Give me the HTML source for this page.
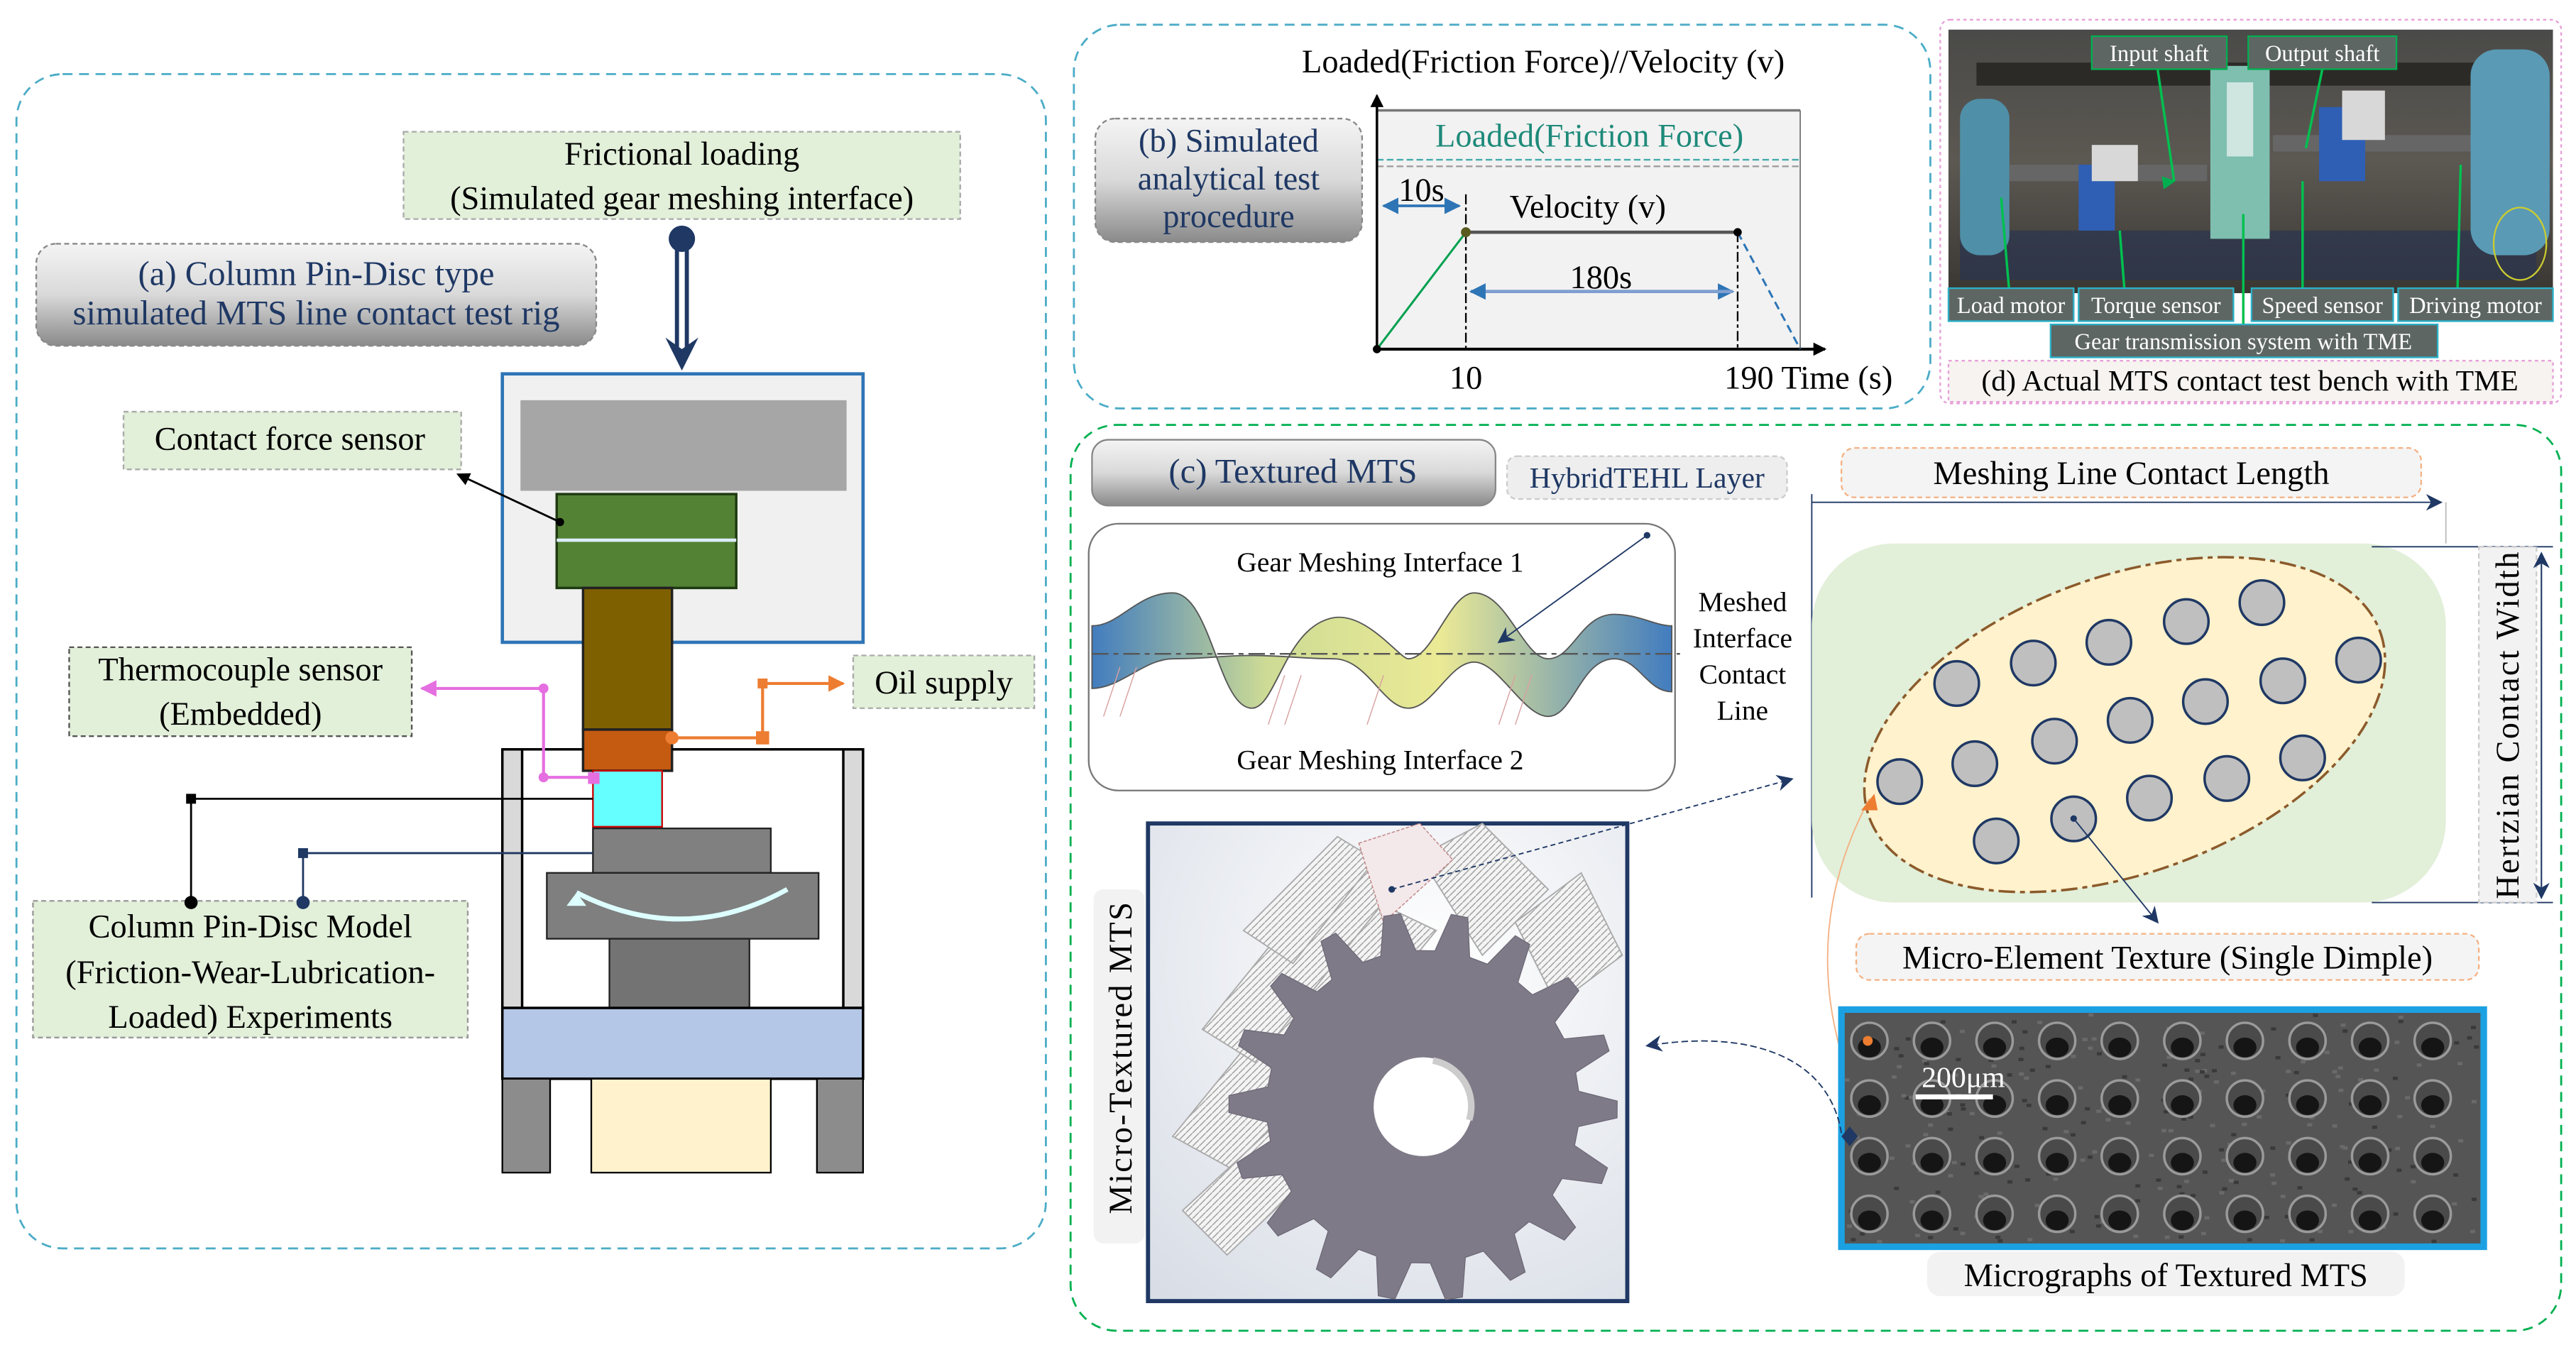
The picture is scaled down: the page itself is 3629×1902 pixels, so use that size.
<!DOCTYPE html>
<html><head><meta charset="utf-8">
<style>
html,body{margin:0;padding:0;background:#fff;}
svg{display:block;}
text{font-family:"Liberation Serif",serif;}
</style></head>
<body>
<svg id="s" width="3629" height="1902" viewBox="0 0 1564 819.7" preserveAspectRatio="none" xmlns="http://www.w3.org/2000/svg">
<defs>
<linearGradient id="gb" x1="0" y1="0" x2="0" y2="1"><stop offset="0" stop-color="#f4f4f4"/><stop offset="0.5" stop-color="#d9d9d9"/><stop offset="1" stop-color="#8a8a8a"/></linearGradient>
<linearGradient id="wv" x1="0" y1="0" x2="1" y2="0"><stop offset="0" stop-color="#2e6fb8"/><stop offset="0.3" stop-color="#c8d88a"/><stop offset="0.6" stop-color="#e9e88a"/><stop offset="1" stop-color="#2e6fb8"/></linearGradient>
<linearGradient id="ph" x1="0" y1="0" x2="0" y2="1"><stop offset="0" stop-color="#4a4a48"/><stop offset="0.5" stop-color="#5c5852"/><stop offset="1" stop-color="#3a3632"/></linearGradient>
<radialGradient id="gr" cx="0.6" cy="0.3" r="0.9"><stop offset="0" stop-color="#ffffff"/><stop offset="1" stop-color="#d8dde6"/></radialGradient>
<pattern id="hatch" width="4" height="4" patternUnits="userSpaceOnUse"><rect width="4" height="4" fill="#f4f4f4"/><path d="M0,4 L4,0" stroke="#999" stroke-width="0.6"/></pattern>
<marker id="ab" markerWidth="8" markerHeight="8" refX="7" refY="4" orient="auto" markerUnits="userSpaceOnUse"><path d="M0,0 L8,4 L0,8 z" fill="#000"/></marker>
<marker id="an" markerWidth="10" markerHeight="10" refX="9" refY="5" orient="auto" markerUnits="userSpaceOnUse"><path d="M0,0 L10,5 L0,10 L3,5 z" fill="#1f3864"/></marker>
<marker id="ap" markerWidth="10" markerHeight="10" refX="9" refY="5" orient="auto" markerUnits="userSpaceOnUse"><path d="M0,0 L10,5 L0,10 z" fill="#e56ee0"/></marker>
<marker id="ao" markerWidth="10" markerHeight="10" refX="9" refY="5" orient="auto" markerUnits="userSpaceOnUse"><path d="M0,0 L10,5 L0,10 z" fill="#ed7d31"/></marker>
<marker id="abl" markerWidth="10" markerHeight="10" refX="9" refY="5" orient="auto" markerUnits="userSpaceOnUse"><path d="M0,0 L10,5 L0,10 z" fill="#2e75b6"/></marker>
<marker id="ag" markerWidth="8" markerHeight="8" refX="4" refY="1" orient="auto" markerUnits="userSpaceOnUse"><path d="M0,8 L4,0 L8,8 z" fill="#00b050"/></marker>
</defs>

<!-- Panel a -->
<rect x="10" y="45" width="625" height="713" rx="28" fill="none" stroke="#4bacc6" stroke-dasharray="6,4" stroke-width="1.2"/>
<rect x="245" y="80" width="338" height="53" fill="#e2efd9" stroke="#aaa" stroke-dasharray="3,2"/>
<text x="414" y="100" font-size="20" text-anchor="middle">Frictional loading</text>
<text x="414" y="127" font-size="20" text-anchor="middle">(Simulated gear meshing interface)</text>
<rect x="22" y="148" width="340" height="62" rx="12" fill="url(#gb)" stroke="#888" stroke-dasharray="3,2"/>
<text x="192" y="173" font-size="21" text-anchor="middle" fill="#1f3864">(a) Column Pin-Disc type</text>
<text x="192" y="197" font-size="21" text-anchor="middle" fill="#1f3864">simulated MTS line contact test rig</text>
<circle cx="414" cy="145" r="8" fill="#1f3864"/>
<line x1="411" y1="145" x2="411" y2="215" stroke="#1f3864" stroke-width="2.5"/>
<line x1="417" y1="145" x2="417" y2="215" stroke="#1f3864" stroke-width="2.5"/>
<path d="M404,205 L414,225 L424,205 L414,212 z" fill="#1f3864"/>
<rect x="305" y="227" width="219" height="163" fill="#f0f0f0" stroke="#2e75b6" stroke-width="2"/>
<rect x="316" y="243" width="198" height="55" fill="#a6a6a6"/>
<rect x="338" y="300" width="109" height="57" fill="#548235" stroke="#1e3a10" stroke-width="1.5"/>
<line x1="338" y1="328" x2="447" y2="328" stroke="#ddeeff" stroke-width="2"/>
<rect x="354" y="357" width="54" height="86" fill="#7f6000" stroke="#222" stroke-width="1.5"/>
<rect x="354" y="443" width="54" height="25" fill="#c55a11" stroke="#222" stroke-width="1.5"/>
<rect x="360" y="468" width="42" height="34" fill="#66ffff" stroke="#c00" stroke-width="1"/>
<line x1="305" y1="455" x2="354" y2="455" stroke="#000" stroke-width="1.5"/>
<line x1="408" y1="455" x2="524" y2="455" stroke="#000" stroke-width="1.5"/>
<rect x="305" y="455" width="12" height="157" fill="#d9d9d9" stroke="#000" stroke-width="1.5"/>
<rect x="512" y="455" width="12" height="157" fill="#d9d9d9" stroke="#000" stroke-width="1.5"/>
<rect x="360" y="503" width="108" height="27" fill="#808080" stroke="#222"/>
<rect x="332" y="530" width="165" height="40" fill="#7f7f7f" stroke="#222"/>
<path d="M350,542 Q415,575 478,540" fill="none" stroke="#dff" stroke-width="3"/>
<path d="M350,542 l-6,8 l12,0 z" fill="#dff"/>
<rect x="370" y="570" width="85" height="42" fill="#737373" stroke="#222"/>
<rect x="305" y="612" width="219" height="43" fill="#b4c7e7" stroke="#000" stroke-width="1.5"/>
<rect x="305" y="655" width="29" height="57" fill="#8c8c8c" stroke="#000"/>
<rect x="496" y="655" width="28" height="57" fill="#8c8c8c" stroke="#000"/>
<rect x="359" y="655" width="109" height="57" fill="#fff2cc" stroke="#000"/>
<rect x="75" y="250" width="205" height="35" fill="#e2efd9" stroke="#aaa" stroke-dasharray="3,2"/>
<text x="176" y="273" font-size="20" text-anchor="middle">Contact force sensor</text>
<line x1="340" y1="317" x2="278" y2="288" stroke="#000" stroke-width="1.2" marker-end="url(#ab)"/>
<circle cx="340" cy="317" r="2.5"/>
<rect x="42" y="393" width="208" height="54" fill="#e2efd9" stroke="#555" stroke-dasharray="3,2"/>
<text x="146" y="413" font-size="20" text-anchor="middle">Thermocouple sensor</text>
<text x="146" y="440" font-size="20" text-anchor="middle">(Embedded)</text>
<polyline points="362,472 330,472 330,418 256,418" fill="none" stroke="#e56ee0" stroke-width="1.8" marker-end="url(#ap)"/>
<rect x="357" y="469" width="7" height="7" fill="#e56ee0"/><circle cx="330" cy="472" r="3" fill="#e56ee0"/><circle cx="330" cy="418" r="3" fill="#e56ee0"/>
<rect x="518" y="398" width="110" height="32" fill="#e2efd9" stroke="#aaa" stroke-dasharray="3,2"/>
<text x="573" y="421" font-size="20" text-anchor="middle">Oil supply</text>
<polyline points="408,448 463,448 463,415 512,415" fill="none" stroke="#ed7d31" stroke-width="1.8" marker-end="url(#ao)"/>
<circle cx="408" cy="448" r="4" fill="#ed7d31"/><rect x="459" y="444" width="8" height="8" fill="#ed7d31"/><rect x="460" y="412" width="6" height="6" fill="#ed7d31"/>
<rect x="20" y="547" width="264" height="83" fill="#e2efd9" stroke="#999" stroke-dasharray="3,2"/>
<text x="152" y="569" font-size="20" text-anchor="middle">Column Pin-Disc Model</text>
<text x="152" y="597" font-size="20" text-anchor="middle">(Friction-Wear-Lubrication-</text>
<text x="152" y="624" font-size="20" text-anchor="middle">Loaded) Experiments</text>
<polyline points="116,548 116,485 360,485" fill="none" stroke="#000" stroke-width="1.2"/>
<circle cx="116" cy="548" r="4"/><rect x="113" y="482" width="6" height="6"/>
<polyline points="184,548 184,518 360,518" fill="none" stroke="#1f3864" stroke-width="1.2"/>
<circle cx="184" cy="548" r="4" fill="#1f3864"/><rect x="181" y="515" width="6" height="6" fill="#1f3864"/>

<!-- Panel b -->
<rect x="652" y="15" width="520" height="233" rx="28" fill="none" stroke="#4bacc6" stroke-dasharray="6,4" stroke-width="1.2"/>
<text x="937" y="44" font-size="20" text-anchor="middle">Loaded(Friction Force)//Velocity (v)</text>
<rect x="836" y="67" width="257" height="145" fill="#f2f2f2"/>
<line x1="836" y1="67" x2="1093" y2="67" stroke="#777" stroke-width="1.5"/>
<line x1="1093" y1="67" x2="1093" y2="212" stroke="#777" stroke-width="0.8"/>
<line x1="836" y1="97" x2="1093" y2="97" stroke="#4aa" stroke-dasharray="4,2"/>
<line x1="836" y1="101" x2="1093" y2="101" stroke="#999" stroke-dasharray="4,2"/>
<text x="965" y="89" font-size="20" text-anchor="middle" fill="#1e8a7a">Loaded(Friction Force)</text>
<line x1="836" y1="212" x2="836" y2="58" stroke="#000" stroke-width="1.5" marker-end="url(#ab)"/>
<line x1="836" y1="212" x2="1108" y2="212" stroke="#000" stroke-width="1.8" marker-end="url(#ab)"/>
<rect x="665" y="72" width="162" height="75" rx="12" fill="url(#gb)" stroke="#888" stroke-dasharray="3,2"/>
<text x="746" y="92" font-size="20" text-anchor="middle" fill="#1f3864">(b) Simulated</text>
<text x="746" y="115" font-size="20" text-anchor="middle" fill="#1f3864">analytical test</text>
<text x="746" y="138" font-size="20" text-anchor="middle" fill="#1f3864">procedure</text>
<line x1="836" y1="212" x2="890" y2="141" stroke="#00a050" stroke-width="1.3"/>
<line x1="890" y1="141" x2="1055" y2="141" stroke="#555" stroke-width="2"/>
<line x1="1055" y1="141" x2="1093" y2="212" stroke="#2e75b6" stroke-width="1.3" stroke-dasharray="5,3"/>
<line x1="890" y1="118" x2="890" y2="212" stroke="#000" stroke-dasharray="6,2,2,2"/>
<line x1="1055" y1="141" x2="1055" y2="212" stroke="#000" stroke-dasharray="6,2,2,2"/>
<circle cx="890" cy="141" r="3" fill="#5a5a20"/><circle cx="1055" cy="141" r="2.5"/><circle cx="836" cy="212" r="2.5"/>
<text x="863" y="122" font-size="20" text-anchor="middle">10s</text>
<line x1="840" y1="125" x2="886" y2="125" stroke="#2e75b6" stroke-width="1.5" marker-end="url(#abl)"/>
<line x1="886" y1="125" x2="840" y2="125" stroke="#2e75b6" stroke-width="1.5" marker-end="url(#abl)"/>
<text x="964" y="132" font-size="20" text-anchor="middle">Velocity (v)</text>
<text x="972" y="175" font-size="20" text-anchor="middle">180s</text>
<line x1="893" y1="177" x2="1052" y2="177" stroke="#7f9fd0" stroke-width="2" marker-end="url(#abl)"/>
<line x1="1052" y1="177" x2="893" y2="177" stroke="#7f9fd0" stroke-width="2" marker-end="url(#abl)"/>
<text x="890" y="236" font-size="20" text-anchor="middle">10</text>
<text x="1098" y="236" font-size="20" text-anchor="middle">190 Time (s)</text>

<!-- Panel d -->
<rect x="1178" y="12" width="377" height="233" rx="6" fill="none" stroke="#e6a0d8" stroke-dasharray="2,2"/>
<rect x="1183" y="18" width="367" height="160" fill="url(#ph)"/>
<rect x="1200" y="38" width="320" height="14" fill="#2c2a27"/>
<rect x="1190" y="140" width="350" height="30" fill="#2a3450" opacity="0.7"/>
<rect x="1190" y="60" width="30" height="95" rx="12" fill="#4f8fa8"/>
<rect x="1500" y="30" width="48" height="125" rx="16" fill="#5a9ab5"/>
<rect x="1220" y="100" width="120" height="10" fill="#666"/>
<rect x="1380" y="82" width="120" height="10" fill="#666"/>
<rect x="1262" y="100" width="22" height="40" fill="#2f5fb5"/>
<rect x="1270" y="88" width="28" height="22" fill="#d8d8d8"/>
<rect x="1342" y="40" width="36" height="105" fill="#7fbfb0"/>
<rect x="1352" y="50" width="16" height="45" fill="#cfe6e0"/>
<rect x="1408" y="65" width="28" height="45" fill="#2f5fb5"/>
<rect x="1422" y="55" width="26" height="30" fill="#d8d8d8"/>
<ellipse cx="1530" cy="148" rx="16" ry="22" fill="none" stroke="#cccc30"/>
<g stroke="#00c050" stroke-width="1.5">
<line x1="1310" y1="42" x2="1320" y2="110" marker-end="url(#ag)"/>
<line x1="1410" y1="42" x2="1400" y2="90"/>
<line x1="1220" y1="178" x2="1215" y2="120"/>
<line x1="1290" y1="178" x2="1287" y2="140"/>
<line x1="1362" y1="200" x2="1362" y2="130"/>
<line x1="1398" y1="178" x2="1398" y2="110"/>
<line x1="1492" y1="178" x2="1494" y2="100"/>
</g>
<g font-size="14" fill="#fff" text-anchor="middle">
<rect x="1270" y="22" width="82" height="20" fill="#5e6663" stroke="#00b050"/><text x="1311" y="37">Input shaft</text>
<rect x="1365" y="22" width="90" height="20" fill="#5e6663" stroke="#00b050"/><text x="1410" y="37">Output shaft</text>
<rect x="1183" y="175" width="76" height="20" fill="#5e6663" stroke="#2ab0c8"/><text x="1221" y="190">Load motor</text>
<rect x="1262" y="175" width="94" height="20" fill="#5e6663" stroke="#2ab0c8"/><text x="1309" y="190">Torque sensor</text>
<rect x="1367" y="175" width="86" height="20" fill="#5e6663" stroke="#2ab0c8"/><text x="1410" y="190">Speed sensor</text>
<rect x="1456" y="175" width="94" height="20" fill="#5e6663" stroke="#2ab0c8"/><text x="1503" y="190">Driving motor</text>
<rect x="1245" y="197" width="235" height="20" fill="#5e6663" stroke="#2ab0c8"/><text x="1362" y="212">Gear transmission system with TME</text>
</g>
<rect x="1183" y="219" width="367" height="25" fill="#f7f3f0" stroke="#e6a0d8" stroke-dasharray="2,2"/>
<text x="1366" y="237" font-size="18" text-anchor="middle">(d) Actual MTS contact test bench with TME</text>

<!-- Panel c -->
<rect x="650" y="258" width="905" height="550" rx="28" fill="none" stroke="#00b050" stroke-dasharray="6,4" stroke-width="1.2"/>
<rect x="663" y="267" width="245" height="40" rx="10" fill="url(#gb)" stroke="#888"/>
<text x="785" y="293" font-size="21" text-anchor="middle" fill="#1f3864">(c) Textured MTS</text>
<rect x="915" y="277" width="170" height="26" rx="6" fill="#eeeeee" stroke="#ccc" stroke-dasharray="3,2"/>
<text x="1000" y="296" font-size="18" text-anchor="middle" fill="#1f3864">HybridTEHL Layer</text>
<rect x="661" y="318" width="356" height="162" rx="18" fill="#fff" stroke="#777"/>
<text x="838" y="347" font-size="17" text-anchor="middle">Gear Meshing Interface 1</text>
<text x="838" y="467" font-size="17" text-anchor="middle">Gear Meshing Interface 2</text>
<path d="M663,380 C680,380 690,360 712,360 C735,360 740,430 760,430 C775,430 780,380 810,375 C830,372 850,400 855,400 C870,400 880,360 895,360 C915,360 925,400 940,400 C955,400 960,373 980,373 C995,373 1005,380 1015,380 L1015,420 C1000,420 995,400 980,400 C960,400 955,435 940,435 C925,435 910,402 895,402 C880,402 870,430 855,430 C840,430 830,400 810,400 C790,400 780,398 760,398 C740,398 735,400 712,400 C695,400 680,418 663,418 Z" fill="url(#wv)" stroke="#444" stroke-width="0.8" opacity="0.9"/>
<line x1="663" y1="397" x2="1020" y2="397" stroke="#555" stroke-dasharray="10,3,3,3"/>
<g stroke="#d9a0a0" stroke-width="0.6" fill="none"><path d="M680,405 l-10,30 M690,405 l-10,30 M780,410 l-10,30 M790,410 l-10,30 M840,410 l-10,30 M920,410 l-10,30 M930,410 l-10,30"/></g>
<line x1="1000" y1="325" x2="910" y2="390" stroke="#1f3864" stroke-width="0.8" marker-end="url(#an)"/>
<circle cx="1000" cy="325" r="2" fill="#1f3864"/>
<g font-size="17" text-anchor="middle"><text x="1058" y="371">Meshed</text><text x="1058" y="393">Interface</text><text x="1058" y="415">Contact</text><text x="1058" y="437">Line</text></g>
<rect x="1118" y="272" width="352" height="30" rx="8" fill="#f4f4f4" stroke="#f4b183" stroke-dasharray="3,2"/>
<text x="1294" y="294" font-size="20" text-anchor="middle">Meshing Line Contact Length</text>
<line x1="1100" y1="305" x2="1482" y2="305" stroke="#1f3864" stroke-width="0.8" marker-end="url(#an)"/>
<line x1="1100" y1="300" x2="1100" y2="545" stroke="#1f3864" stroke-width="0.8"/>
<line x1="1485" y1="305" x2="1485" y2="330" stroke="#bbb" stroke-width="0.8"/>
<rect x="1100" y="330" width="385" height="218" rx="50" fill="#e2efd9"/>
<line x1="1440" y1="332" x2="1550" y2="332" stroke="#1f3864" stroke-width="0.8"/>
<line x1="1440" y1="548" x2="1550" y2="548" stroke="#1f3864" stroke-width="0.8"/>
<ellipse cx="1290" cy="440" rx="165" ry="90" transform="rotate(-20 1290 440)" fill="#fff2cc" stroke="#8b5a2b" stroke-width="1.5" stroke-dasharray="10,3,3,3"/>
<g id="dimples" fill="#bfbfbf" stroke="#1f3864" stroke-width="1.5"></g>
<circle cx="1259" cy="497" r="2" fill="#1f3864"/>
<line x1="1259" y1="497" x2="1310" y2="560" stroke="#1f3864" stroke-width="0.8" marker-end="url(#an)"/>
<path d="M1135,485 Q1095,560 1118,640" fill="none" stroke="#f4b183" stroke-width="0.8"/>
<path d="M1130,492 l8,-10 l2,10 z" fill="#ed7d31"/>
<rect x="1505" y="332" width="35" height="216" fill="#f2f2f2" stroke="#ccc" stroke-dasharray="3,2"/>
<text transform="translate(1529 440) rotate(-90)" font-size="20" text-anchor="middle" letter-spacing="1">Hertzian Contact Width</text>
<line x1="1543" y1="545" x2="1543" y2="336" stroke="#1f3864" stroke-width="0.8" marker-end="url(#an)"/>
<line x1="1543" y1="336" x2="1543" y2="545" stroke="#1f3864" stroke-width="0.8" marker-end="url(#an)"/>
<rect x="1127" y="567" width="378" height="28" rx="8" fill="#f4f4f4" stroke="#f4b183" stroke-dasharray="3,2"/>
<text x="1316" y="588" font-size="20" text-anchor="middle">Micro-Element Texture (Single Dimple)</text>
<rect x="1118" y="613" width="390" height="144" fill="#555" stroke="#1ba1e2" stroke-width="4"/>
<g id="micro"></g>
<circle cx="1134" cy="632" r="3" fill="#ed7d31"/>
<text x="1192" y="660" font-size="18" text-anchor="middle" fill="#fff">200μm</text>
<line x1="1163" y1="666" x2="1210" y2="666" stroke="#fff" stroke-width="3"/>
<path d="M1118,690 l5,-6 l5,6 l-5,6 z" fill="#1f3864"/>
<path d="M1118,688 C1110,640 1060,625 1000,635" fill="none" stroke="#1f3864" stroke-width="0.8" stroke-dasharray="4,2" marker-end="url(#an)"/>
<rect x="1170" y="760" width="290" height="27" rx="8" fill="#f2f2f2"/>
<text x="1315" y="781" font-size="20" text-anchor="middle">Micrographs of Textured MTS</text>
<rect x="697" y="500" width="291" height="290" fill="url(#gr)" stroke="#1f3864" stroke-width="2.5"/>
<g fill="url(#hatch)" stroke="#aaa" stroke-width="0.8">
<path d="M712,690 L830,545 L872,565 L752,712 z"/>
<path d="M730,625 L815,520 L848,538 L762,645 z"/>
<path d="M755,565 L812,508 L835,522 L785,585 z"/>
<path d="M718,735 L808,652 L840,672 L745,762 z"/>
<path d="M862,520 L900,500 L940,540 L900,580 z"/>
<path d="M920,560 L960,530 L985,580 L945,610 z"/>
</g>
<path d="M825,512 L862,500 L882,522 L840,560 z" fill="#f3e8ea" stroke="#c08080" stroke-width="0.6" stroke-dasharray="2,1"/>
<path id="gear" fill="#7f7a88" stroke="#6a6573" stroke-width="0.5"/>
<circle cx="864" cy="672" r="30" fill="#fff"/>
<path d="M870,644 A28,28 0 0 1 892,680" fill="none" stroke="#ccc" stroke-width="4"/>
<line x1="845" y1="540" x2="1088" y2="473" stroke="#1f3864" stroke-width="0.8" stroke-dasharray="3,2" marker-end="url(#an)"/>
<circle cx="845" cy="540" r="2" fill="#1f3864"/>
<rect x="664" y="540" width="31" height="215" rx="6" fill="#f2f2f2"/>
<text transform="translate(687 642) rotate(-90)" font-size="20" text-anchor="middle" letter-spacing="1">Micro-Textured MTS</text>
</svg>
<script>
var NS="http://www.w3.org/2000/svg";
var pts=[[1188,415],[1234.5,402.6],[1280.4,390],[1327.4,377.4],[1373.3,365.9],[1432,400.8],[1386,413.4],[1339,426],[1293.3,437.4],[1247.4,450],[1199,463.7],[1153.4,474.6],[1212,510.6],[1259,497.2],[1305,484.6],[1352,472.7],[1398,460.2]];
var g=document.getElementById("dimples");
pts.forEach(function(p){var c=document.createElementNS(NS,"circle");c.setAttribute("cx",p[0]);c.setAttribute("cy",p[1]);c.setAttribute("r",13.5);g.appendChild(c);});
var m=document.getElementById("micro");
for(var i=0;i<300;i++){var r=document.createElementNS(NS,"rect");r.setAttribute("x",1120+Math.random()*385);r.setAttribute("y",615+Math.random()*138);r.setAttribute("width",3);r.setAttribute("height",2);r.setAttribute("fill",Math.random()<0.5?"#3a3a3a":"#6a6a6a");m.appendChild(r);}
for(var r=0;r<4;r++)for(var c=0;c<10;c++){var x=1135+c*38,y=632+r*35;
var e=document.createElementNS(NS,"ellipse");e.setAttribute("cx",x);e.setAttribute("cy",y);e.setAttribute("rx",11);e.setAttribute("ry",11);e.setAttribute("fill","#4a4a4a");e.setAttribute("stroke","#9a9a9a");e.setAttribute("stroke-width","1.5");m.appendChild(e);
var d=document.createElementNS(NS,"ellipse");d.setAttribute("cx",x);d.setAttribute("cy",y+4);d.setAttribute("rx",7);d.setAttribute("ry",6);d.setAttribute("fill","#151515");m.appendChild(d);}
var cx=864,cy=672,N=18,Ro=118,Rr=95,s="",off=0.25;
for(var i=0;i<N;i++){var a=off+i*2*Math.PI/N,t=2*Math.PI/N;
var ang=[a,a+t*0.2,a+t*0.45,a+t*0.65,a+t*1];var rad=[Rr,Ro,Ro,Rr,Rr];
for(var k=0;k<ang.length;k++){s+=(i==0&&k==0?"M":"L")+(cx+rad[k]*Math.cos(ang[k])).toFixed(1)+","+(cy+rad[k]*Math.sin(ang[k])).toFixed(1);}}
document.getElementById("gear").setAttribute("d",s+"Z");
</script>
</body></html>
